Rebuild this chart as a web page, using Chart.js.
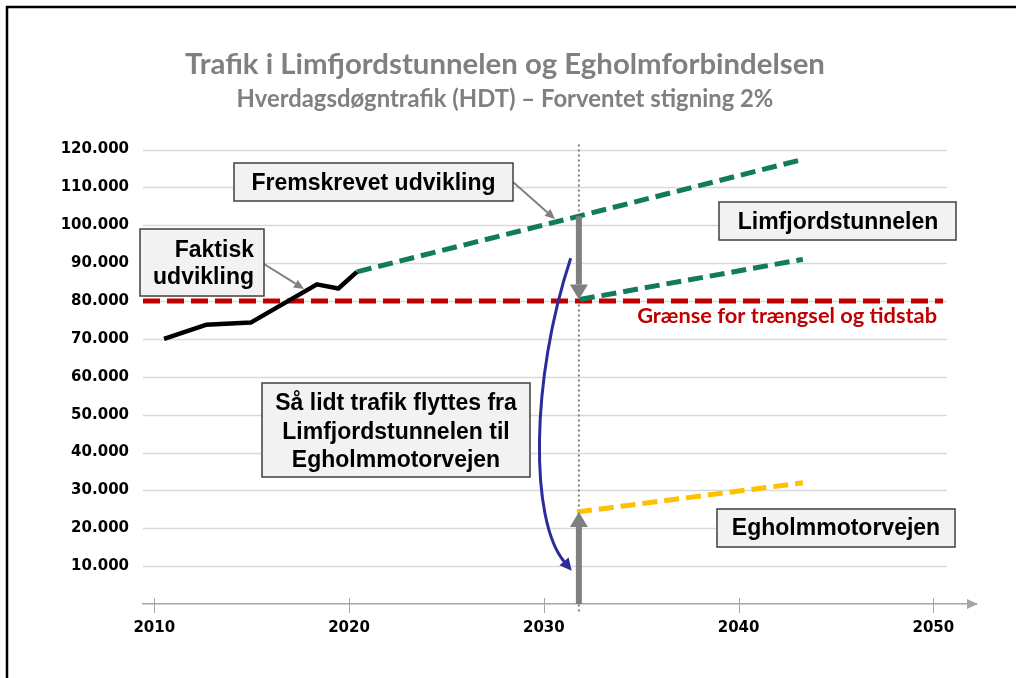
<!DOCTYPE html>
<html>
<head>
<meta charset="utf-8">
<script src="https://cdn.jsdelivr.net/npm/chart.js@4.4.0/dist/chart.umd.min.js"></script>
<style>
  body { margin: 0; background: #fff; }
  canvas { display: block; }
</style>
</head>
<body>
<canvas id="trafficChart" width="1016" height="678"></canvas>
<script>
// data
const actualYears = [2010.5, 2012.65, 2014.95, 2018.35, 2019.45, 2020.4];
const actualValues = [70000, 73700, 74300, 84400, 83300, 87700];
const projectedYears = [2020.4, 2031.8, 2043.3];
const projectedValues = [87700, 102400, 117400];
const tunnelYears = [2031.85, 2043.3];
const tunnelValues = [80400, 91000];
const motorwayYears = [2031.7, 2043.3];
const motorwayValues = [24300, 32000];
const limitYears = [2009.42, 2050.5];
const limitValues = [80000, 80000];
const xTickYears = [2010, 2020, 2030, 2040, 2050];
const yTickValues = [10000, 20000, 30000, 40000, 50000, 60000, 70000, 80000, 90000, 100000, 110000, 120000];

const titleText = "Trafik i Limfjordstunnelen og Egholmforbindelsen";
const subtitleText = "Hverdagsdøgntrafik (HDT) – Forventet stigning 2%";
const limitText = "Grænse for trængsel og tidstab";

const toPoints = (xs, ys) => xs.map((x, i) => ({ x: x, y: ys[i] }));
const fmt = v => String(v).replace(/\B(?=(\d{3})+(?!\d))/g, ".");

function fitSize(text, family, target) {
  const c = document.createElement("canvas").getContext("2d");
  c.font = "bold 100px " + family;
  return 100 * target / c.measureText(text).width;
}

const titleSize = fitSize(titleText, "Lato", 640);
const subSize = fitSize(subtitleText, "Lato", 537);
const titleLH = titleSize * 1.2;
const subLH = subSize * 1.2;
const titleBottom = 65 + titleLH / 2 + 2;

const tickFont = { family: "DejaVu Sans", weight: "bold", size: 15 };

function arrow(ctx, x1, y1, x2, y2, width, headLen, headWidth, color) {
  const a = Math.atan2(y2 - y1, x2 - x1);
  const bx = x2 - Math.cos(a) * headLen;
  const by = y2 - Math.sin(a) * headLen;
  ctx.strokeStyle = color;
  ctx.fillStyle = color;
  ctx.lineWidth = width;
  ctx.setLineDash([]);
  ctx.beginPath();
  ctx.moveTo(x1, y1);
  ctx.lineTo(bx, by);
  ctx.stroke();
  ctx.beginPath();
  ctx.moveTo(x2, y2);
  ctx.lineTo(bx + Math.sin(a) * headWidth / 2, by - Math.cos(a) * headWidth / 2);
  ctx.lineTo(bx - Math.sin(a) * headWidth / 2, by + Math.cos(a) * headWidth / 2);
  ctx.closePath();
  ctx.fill();
}

function box(ctx, x, y, w, h) {
  ctx.fillStyle = "#f2f2f2";
  ctx.fillRect(x, y, w, h);
  ctx.strokeStyle = "#3f3f3f";
  ctx.lineWidth = 1.5;
  ctx.setLineDash([]);
  ctx.strokeRect(x, y, w, h);
}

const extras = {
  id: "extras",
  beforeDatasetsDraw(chart) {
    const { ctx, chartArea, scales: { x, y } } = chart;
    ctx.save();
    // horizontal gridlines
    ctx.strokeStyle = "#d9d9d9";
    ctx.lineWidth = 1.5;
    const gx = x.getPixelForValue(2050.7);
    y.ticks.forEach(t => {
      const py = Math.round(y.getPixelForValue(t.value)) + 0.5;
      ctx.beginPath();
      ctx.moveTo(chartArea.left, py);
      ctx.lineTo(gx, py);
      ctx.stroke();
    });
    // x tick marks and axis arrow
    ctx.strokeStyle = "#a6a6a6";
    ctx.lineWidth = 1;
    x.ticks.forEach(t => {
      const px = Math.round(x.getPixelForValue(t.value)) + 0.5;
      ctx.beginPath();
      ctx.moveTo(px, chartArea.bottom - 6);
      ctx.lineTo(px, chartArea.bottom + 9);
      ctx.stroke();
    });
    ctx.fillStyle = "#a6a6a6";
    ctx.beginPath();
    ctx.moveTo(chartArea.right + 2, chartArea.bottom);
    ctx.lineTo(chartArea.right - 9, chartArea.bottom - 5);
    ctx.lineTo(chartArea.right - 9, chartArea.bottom + 5);
    ctx.closePath();
    ctx.fill();
    // dotted marker year
    const mx = x.getPixelForValue(projectedYears[1]);
    ctx.strokeStyle = "#7f7f7f";
    ctx.lineWidth = 2;
    ctx.setLineDash([2, 3]);
    ctx.beginPath();
    ctx.moveTo(mx, chartArea.top - 5);
    ctx.lineTo(mx, chartArea.bottom + 10);
    ctx.stroke();
    ctx.restore();
  },
  afterDatasetsDraw(chart) {
    const { ctx, scales: { x, y } } = chart;
    ctx.save();
    const mx = x.getPixelForValue(projectedYears[1]);
    // thick grey arrows
    arrow(ctx, mx, y.getPixelForValue(projectedValues[1]), mx, y.getPixelForValue(tunnelValues[0]), 6, 15, 18, "#7f7f7f");
    arrow(ctx, mx, y.getPixelForValue(0), mx, y.getPixelForValue(motorwayValues[0]), 6, 15, 18, "#7f7f7f");

    // blue curved arrow
    const sx = x.getPixelForValue(2031.38), sy = y.getPixelForValue(91300);
    const c1x = x.getPixelForValue(2029.3), c1y = y.getPixelForValue(59000);
    const c2x = x.getPixelForValue(2029.3), c2y = y.getPixelForValue(22000);
    const ex = x.getPixelForValue(2031.43), ey = y.getPixelForValue(8800);
    const a = Math.atan2(ey - c2y, ex - c2x);
    const bx = ex - Math.cos(a) * 12, by = ey - Math.sin(a) * 12;
    ctx.strokeStyle = "#2b2b9b";
    ctx.fillStyle = "#2b2b9b";
    ctx.lineWidth = 3;
    ctx.beginPath();
    ctx.moveTo(sx, sy);
    ctx.bezierCurveTo(c1x, c1y, c2x, c2y, bx, by);
    ctx.stroke();
    ctx.beginPath();
    ctx.moveTo(ex, ey);
    ctx.lineTo(bx + Math.sin(a) * 6, by - Math.cos(a) * 6);
    ctx.lineTo(bx - Math.sin(a) * 6, by + Math.cos(a) * 6);
    ctx.closePath();
    ctx.fill();

    // pointer arrows
    arrow(ctx, 264, 264, 304, 289, 2, 10, 9, "#808080");
    arrow(ctx, 513, 182, 555, 219, 2, 10, 9, "#808080");

    // text boxes
    ctx.font = 'bold 23px "Liberation Sans"';
    box(ctx, 234, 163, 279, 38);
    ctx.fillStyle = "#000";
    ctx.textAlign = "center";
    ctx.fillText("Fremskrevet udvikling", 373.5, 190);

    box(ctx, 140, 229, 124, 67);
    ctx.fillStyle = "#000";
    ctx.textAlign = "right";
    ctx.fillText("Faktisk", 254, 256.5);
    ctx.fillText("udvikling", 254, 284);

    box(ctx, 719, 202, 237, 38);
    ctx.fillStyle = "#000";
    ctx.textAlign = "center";
    ctx.fillText("Limfjordstunnelen", 838, 229);

    box(ctx, 262, 383, 268, 94);
    ctx.fillStyle = "#000";
    ctx.fillText("Så lidt trafik flyttes fra", 396, 410);
    ctx.fillText("Limfjordstunnelen til", 396, 438.5);
    ctx.fillText("Egholmmotorvejen", 396, 467);

    box(ctx, 717, 509, 238, 38);
    ctx.fillStyle = "#000";
    ctx.fillText("Egholmmotorvejen", 836, 535);

    // limit label
    ctx.font = "bold " + fitSize(limitText, "Lato", 300).toFixed(2) + "px Lato";
    ctx.fillStyle = "#c00000";
    ctx.textAlign = "right";
    ctx.fillText(limitText, 937, 323);
    ctx.restore();
  },
  afterDraw(chart) {
    const ctx = chart.ctx;
    ctx.save();
    ctx.strokeStyle = "#000";
    ctx.lineWidth = 2.5;
    ctx.beginPath();
    ctx.moveTo(7, 678);
    ctx.lineTo(7, 7);
    ctx.lineTo(1016, 7);
    ctx.stroke();
    ctx.restore();
  }
};

const dashed = { borderWidth: 5, borderDash: [15, 7], borderCapStyle: "butt", pointRadius: 0, fill: false, tension: 0 };

new Chart("trafficChart", {
  type: "line",
  data: {
    datasets: [
      { label: "Faktisk udvikling", data: toPoints(actualYears, actualValues), borderColor: "#000", borderWidth: 4.5, pointRadius: 0, fill: false, tension: 0, borderJoinStyle: "round" },
      Object.assign({ label: "Fremskrevet udvikling", data: toPoints(projectedYears, projectedValues), borderColor: "#127b5a" }, dashed),
      Object.assign({ label: "Limfjordstunnelen", data: toPoints(tunnelYears, tunnelValues), borderColor: "#127b5a" }, dashed),
      Object.assign({ label: "Egholmmotorvejen", data: toPoints(motorwayYears, motorwayValues), borderColor: "#ffc000" }, dashed),
      Object.assign({ label: "Grænse", data: toPoints(limitYears, limitValues), borderColor: "#c00000", borderDash: [17, 7] }, { borderWidth: 5, borderCapStyle: "butt", pointRadius: 0, fill: false, tension: 0 })
    ]
  },
  options: {
    responsive: false,
    animation: false,
    events: [],
    layout: { padding: { left: 34, right: 40, top: 0, bottom: 0 } },
    plugins: {
      legend: { display: false },
      tooltip: { enabled: false },
      title: {
        display: true,
        text: titleText,
        color: "#808080",
        font: { family: "Lato", weight: "bold", size: titleSize, lineHeight: 1.2 },
        padding: { top: 65 - titleLH / 2, bottom: 2 }
      },
      subtitle: {
        display: true,
        text: subtitleText,
        color: "#808080",
        font: { family: "Lato", weight: "bold", size: subSize, lineHeight: 1.2 },
        padding: { top: 99 - subLH / 2 - titleBottom, bottom: 149.5 - 99 - subLH / 2 }
      }
    },
    scales: {
      x: {
        type: "linear",
        min: 2009.42,
        max: 2052.19,
        afterBuildTicks: s => { s.ticks = xTickYears.map(v => ({ value: v })); },
        afterFit: s => { s.height = 74; },
        grid: { display: false, drawTicks: false },
        border: { display: true, color: "#a6a6a6", width: 1.5 },
        ticks: { padding: 15, autoSkip: false, maxRotation: 0, color: "#000", font: tickFont, callback: v => String(v) }
      },
      y: {
        min: 0,
        max: 120000,
        afterBuildTicks: s => { s.ticks = yTickValues.map(v => ({ value: v })); },
        afterFit: s => { s.width = 109; },
        grid: { display: false, drawTicks: false },
        border: { display: false },
        ticks: { padding: 14, color: "#000", font: tickFont, callback: v => fmt(v) }
      }
    }
  },
  plugins: [extras]
});
</script>
</body>
</html>
